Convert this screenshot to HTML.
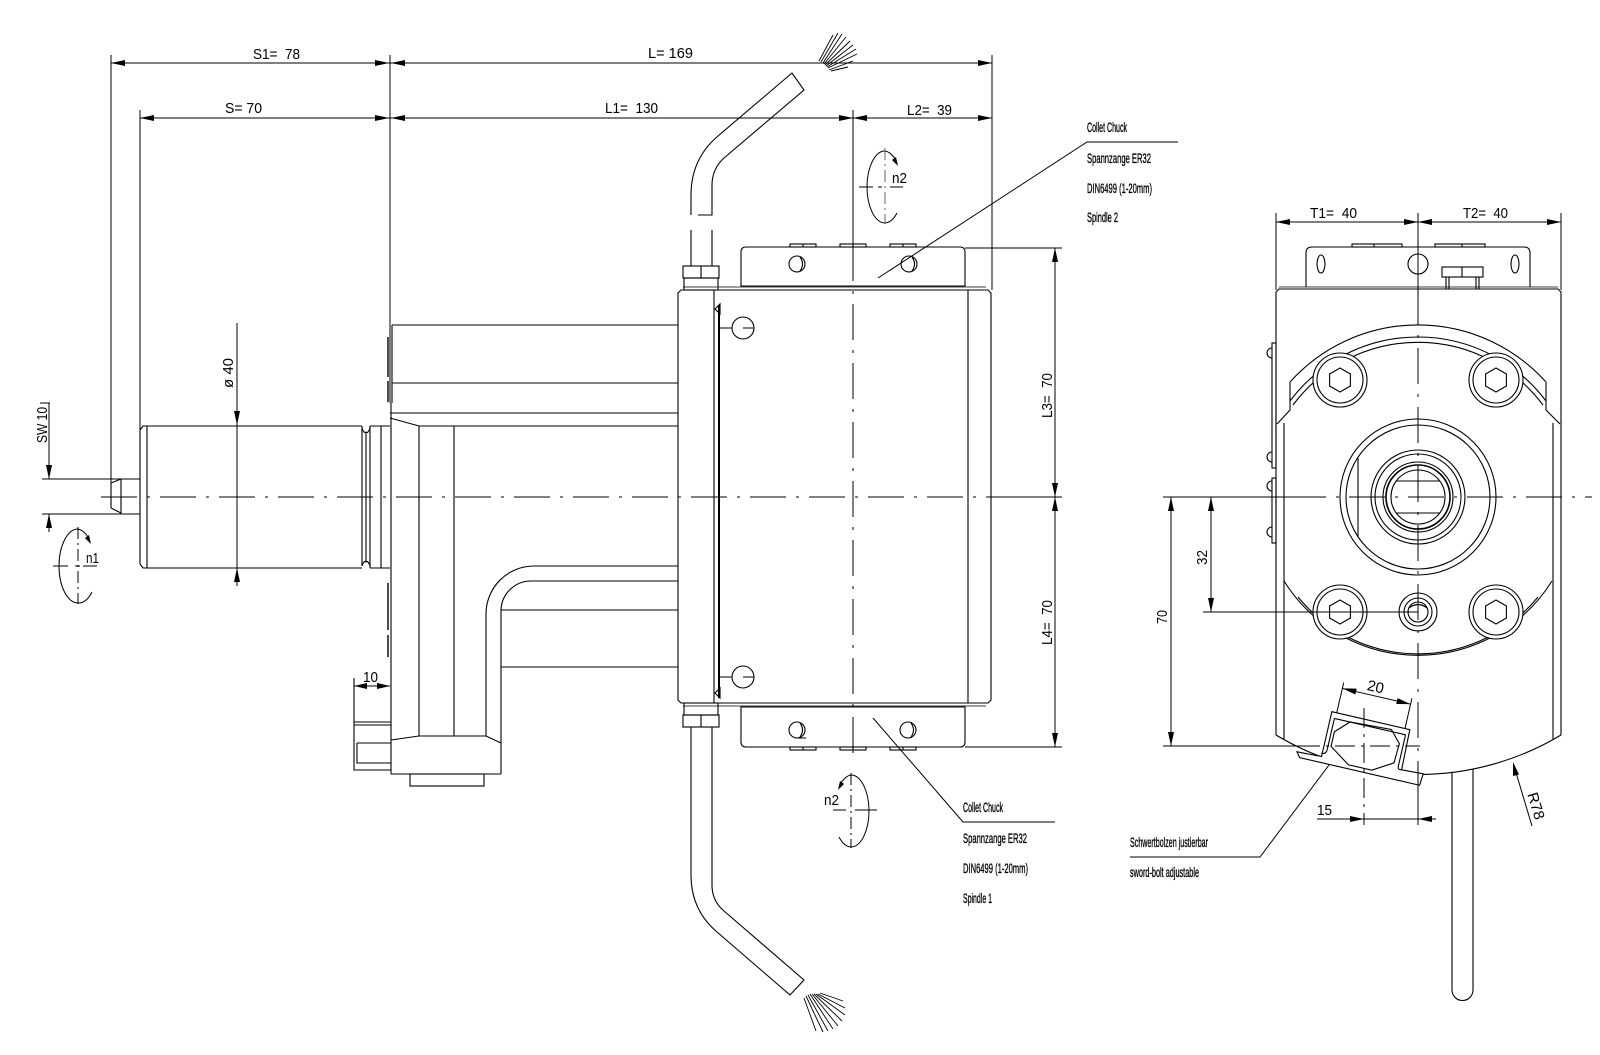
<!DOCTYPE html>
<html><head><meta charset="utf-8">
<style>html,body{margin:0;padding:0;background:#fff;}svg{display:block;}text{white-space:pre;}</style></head>
<body>
<svg width="1600" height="1055" viewBox="0 0 1600 1055" xmlns="http://www.w3.org/2000/svg" font-family="'Liberation Sans', sans-serif">
<rect width="1600" height="1055" fill="#fff"/>

<!-- ================= DIMENSIONS TOP ================= -->
<g stroke="#000" stroke-width="1" fill="none">
  <line x1="111" y1="63" x2="992" y2="63"/>
  <line x1="140" y1="118" x2="992" y2="118"/>
  <line x1="111" y1="55" x2="111" y2="483"/>
  <line x1="140" y1="110" x2="140" y2="430"/>
  <line x1="390" y1="55" x2="390" y2="403"/>
  <line x1="992" y1="55" x2="992" y2="290"/>
  <line x1="853" y1="110" x2="853" y2="245"/>
</g>
<g fill="#000">
  <polygon points="111,63 125,60 125,66"/>
  <polygon points="389,63 375,60 375,66"/>
  <polygon points="391,63 405,60 405,66"/>
  <polygon points="992,63 978,60 978,66"/>
  <polygon points="140,118 154,115 154,121"/>
  <polygon points="389,118 375,115 375,121"/>
  <polygon points="391,118 405,115 405,121"/>
  <polygon points="853,118 839,115 839,121"/>
  <polygon points="853,118 867,115 867,121"/>
  <polygon points="992,118 978,115 978,121"/>
</g>
<g font-size="15" fill="#000">
  <text x="253" y="59" textLength="47" lengthAdjust="spacingAndGlyphs">S1=  78</text>
  <text x="225" y="113" textLength="37" lengthAdjust="spacingAndGlyphs">S= 70</text>
  <text x="648" y="58" textLength="45" lengthAdjust="spacingAndGlyphs">L= 169</text>
  <text x="605" y="113" textLength="53" lengthAdjust="spacingAndGlyphs">L1=  130</text>
  <text x="907" y="115" textLength="45" lengthAdjust="spacingAndGlyphs">L2=  39</text>
</g>

<!-- ================= LEFT SHAFT / CYLINDER ================= -->
<g stroke="#000" stroke-width="1.1" fill="none">
  <path d="M111,483 L121,479 M111,508 L121,513 M111,483 V508 M121,479 V514"/>
  <line x1="42" y1="479" x2="140" y2="479"/>
  <line x1="42" y1="514" x2="140" y2="514"/>
  <path d="M147,426 H362 M147,568 H362 M147,426 V568 M140,430 L143,426 H147 M140,564 L143,568 H147 M140,430 V564"/>
  <path d="M362,426 V566 M366,432 V562 M362,428 Q364,434 366,432 Q368,434 370,428 M362,566 Q364,560 366,562 Q368,560 370,566 M370,426 V568 M381,426 V568 M370,426 H390 M370,568 H390"/>
</g>
<g stroke="#000" stroke-width="1" fill="none">
  <line x1="49" y1="403" x2="49" y2="479"/>
  <line x1="40" y1="403" x2="50" y2="403"/>
  <line x1="49" y1="514" x2="49" y2="532"/>
  <line x1="237" y1="323" x2="237" y2="586"/>
</g>
<g fill="#000">
  <polygon points="49,479 46,465 52,465"/>
  <polygon points="49,514 46,528 52,528"/>
  <polygon points="237,425 234,411 240,411"/>
  <polygon points="237,568 234,582 240,582"/>
</g>
<g font-size="15" fill="#000">
  <text transform="translate(47,443) rotate(-90)" textLength="36" lengthAdjust="spacingAndGlyphs">SW 10</text>
  <text transform="translate(233,388) rotate(-90)" textLength="30" lengthAdjust="spacingAndGlyphs">ø 40</text>
</g>
<g stroke="#000" stroke-width="1" fill="none">
  <path d="M78,529 A19,37 0 0,0 78,603"/>
  <path d="M78,529 A19,37 0 0,1 88,537"/>
  <path d="M78,603 A19,37 0 0,0 92,592"/>
  <line x1="78" y1="527" x2="78" y2="604" stroke-dasharray="12 4 2 4"/>
  <path d="M53,566 H68 M75,566 H80 M83,566 H97"/>
</g>
<polygon points="91,544 89,535 85,538" fill="#000"/>
<text x="86" y="563" font-size="15" textLength="13" lengthAdjust="spacingAndGlyphs">n1</text>

<!-- ================= GEAR HOUSING ================= -->
<g stroke="#000" stroke-width="1.1" fill="none">
  <path d="M392,325 H678 M392,383 H678 M390,413 H678 M390,418 L419,426 H678 M392,325 V403"/>
  <path d="M419,426 V736 M454,426 V736"/>
  <path d="M391,403 V774"/>
  <path d="M486,736 V614 A48,48 0 0,1 534,566 H678"/>
  <path d="M501,774 V611 A30,30 0 0,1 531,581 H678"/>
  <path d="M501,610 H678 M501,667 H678"/>
  <path d="M391,740 L419,736 H486 L501,743"/>
  <path d="M391,774 H501"/>
  <rect x="410" y="774" width="74" height="12"/>
  <path d="M388,337 V377 M388,381 V402 M388,583 V630 M388,635 V657" stroke-width="1.4"/>
  <path d="M354,678 V770 H391 M354,722 H391 M354,725 H391 M357,743 V763 H391 M357,743 H391"/>
  <line x1="354" y1="686" x2="390" y2="686" stroke-width="1"/>
</g>
<g fill="#000">
  <polygon points="354,686 367,683 367,689"/>
  <polygon points="390,686 377,683 377,689"/>
</g>
<text x="363" y="682" font-size="15" textLength="15" lengthAdjust="spacingAndGlyphs">10</text>

<!-- ================= MAIN BOX ================= -->
<g stroke="#000" stroke-width="1.1" fill="none">
  <path d="M681,290 H988 L991,293 V700 L988,703 H681 L678,700 V293 Z"/>
  <path d="M683,287 H986 M683,706 H986" stroke-width="0.8"/>
  <path d="M714,290 V703 M968,290 V703"/>
  <path d="M719,305 V698" stroke-width="2"/>
  <polygon points="715,309 720,304 720,314"/>
  <polygon points="715,693 720,688 720,698"/>
  <circle cx="743" cy="328" r="11"/>
  <path d="M720,328 H732 M743,328 H754"/>
  <circle cx="743" cy="677" r="11"/>
  <path d="M720,677 H732 M743,677 H754"/>
  <path d="M741,286 V252 Q741,247 746,247 H960 Q965,247 965,252 V286 Z"/>
  <rect x="790" y="244" width="26" height="3"/><rect x="840" y="244" width="26" height="3"/><rect x="890" y="244" width="26" height="3"/>
  <path d="M803,244 V247 M853,244 V247 M903,244 V247"/>
  <circle cx="797" cy="264" r="8"/><path d="M800,257 Q805,264 800,271"/>
  <circle cx="909" cy="264" r="8"/><path d="M912,257 Q917,264 912,271"/>
  <path d="M741,707 V742 Q741,747 746,747 H960 Q965,747 965,742 V707 Z"/>
  <rect x="790" y="747" width="26" height="3"/><rect x="840" y="747" width="26" height="3"/><rect x="890" y="747" width="26" height="3"/>
  <path d="M803,747 V750 M853,747 V750 M903,747 V750"/>
  <circle cx="797" cy="730" r="8"/><path d="M800,723 Q805,730 800,737 M796,738 H806"/>
  <circle cx="908" cy="730" r="8"/><path d="M911,723 Q916,730 911,737"/>
  <rect x="683" y="266" width="36" height="12"/><path d="M701,266 V278"/>
  <rect x="684" y="278" width="34" height="12"/>
  <rect x="684" y="703" width="34" height="12"/>
  <rect x="683" y="715" width="36" height="12"/><path d="M701,715 V727"/>
  <path d="M691,266 V230 M712,266 V230"/>
  <path d="M691,215 V195 Q691,159 718,136 L792,73 L804,90 L724,158 Q712,169 712,185 V215 H698"/>
  <path d="M691,727 V875 Q691,910 717,932 L790,995 L804,980 L724,911 Q712,901 712,885 V727"/>
</g>
<g stroke="#000" stroke-width="0.9">
  <line x1="819" y1="61" x2="833" y2="35"/>
  <line x1="821" y1="62" x2="838" y2="33"/>
  <line x1="823" y1="63" x2="842" y2="34"/>
  <line x1="824" y1="64" x2="846" y2="37"/>
  <line x1="825" y1="65" x2="850" y2="41"/>
  <line x1="826" y1="66" x2="853" y2="45"/>
  <line x1="827" y1="67" x2="856" y2="49"/>
  <line x1="828" y1="68" x2="857" y2="54"/>
  <line x1="829" y1="70" x2="853" y2="61"/>
  <line x1="831" y1="71" x2="848" y2="67"/>
  <line x1="806" y1="996" x2="823" y2="1032"/>
  <line x1="808" y1="995" x2="828" y2="1031"/>
  <line x1="810" y1="994" x2="833" y2="1029"/>
  <line x1="812" y1="994" x2="838" y2="1026"/>
  <line x1="814" y1="994" x2="842" y2="1021"/>
  <line x1="816" y1="994" x2="845" y2="1015"/>
  <line x1="818" y1="994" x2="845" y2="1008"/>
  <line x1="820" y1="993" x2="843" y2="1001"/>
  <line x1="804" y1="998" x2="816" y2="1031"/>
</g>

<g stroke="#000" stroke-width="1" fill="none">
  <line x1="101" y1="497" x2="1000" y2="497" stroke-dasharray="36 10 3 10"/>
  <line x1="1000" y1="497" x2="1062" y2="497"/>
  <line x1="853" y1="245" x2="853" y2="757" stroke-dasharray="36 10 3 10"/>
</g>

<g stroke="#000" stroke-width="1" fill="none">
  <path d="M885,151 A18,36 0 0,0 885,223"/>
  <path d="M885,151 A18,36 0 0,1 895,159"/>
  <path d="M885,223 A18,36 0 0,0 897,213"/>
  <line x1="885" y1="148" x2="885" y2="224" stroke="#666" stroke-dasharray="12 4 2 4"/>
  <path d="M859,187 H873 M878,187 H882 M890,187 H903"/>
</g>
<polygon points="898,166 896,157 892,160" fill="#000"/>
<text x="892" y="183" font-size="15" textLength="15" lengthAdjust="spacingAndGlyphs">n2</text>
<g stroke="#000" stroke-width="1" fill="none">
  <path d="M851,775 A18,36 0 0,1 851,847"/>
  <path d="M851,775 A18,36 0 0,0 841,783"/>
  <path d="M851,847 A18,36 0 0,1 839,837"/>
  <line x1="851" y1="773" x2="851" y2="848" stroke-dasharray="12 4 2 4"/>
  <path d="M833,810 H846 M855,810 H877"/>
</g>
<polygon points="838,790 840,781 844,784" fill="#000"/>
<text x="824" y="805" font-size="15" textLength="15" lengthAdjust="spacingAndGlyphs">n2</text>

<g stroke="#000" stroke-width="1" fill="none">
  <line x1="1055" y1="248" x2="1055" y2="747"/>
  <line x1="965" y1="248" x2="1062" y2="248"/>
  <line x1="965" y1="747" x2="1062" y2="747"/>
</g>
<g fill="#000">
  <polygon points="1055,248 1052,262 1058,262"/>
  <polygon points="1055,497 1052,483 1058,483"/>
  <polygon points="1055,497 1052,511 1058,511"/>
  <polygon points="1055,747 1052,733 1058,733"/>
</g>
<g font-size="15" fill="#000">
  <text transform="translate(1052,418) rotate(-90)" textLength="45" lengthAdjust="spacingAndGlyphs">L3=  70</text>
  <text transform="translate(1052,645) rotate(-90)" textLength="45" lengthAdjust="spacingAndGlyphs">L4=  70</text>
</g>

<g stroke="#000" stroke-width="1" fill="none">
  <path d="M878,278 L1087,142 H1178"/>
  <path d="M873,718 L963,822 H1055"/>
  <path d="M1350,737 L1260,857 H1130"/>
</g>
<g font-size="14" fill="#000" stroke="#000" stroke-width="0.35">
  <text x="1087" y="132" textLength="40" lengthAdjust="spacingAndGlyphs">Collet Chuck</text>
  <text x="1087" y="163" textLength="64" lengthAdjust="spacingAndGlyphs">Spannzange ER32</text>
  <text x="1087" y="193" textLength="65" lengthAdjust="spacingAndGlyphs">DIN6499 (1-20mm)</text>
  <text x="1087" y="222" textLength="31" lengthAdjust="spacingAndGlyphs">Spindle 2</text>
  <text x="963" y="812" textLength="40" lengthAdjust="spacingAndGlyphs">Collet Chuck</text>
  <text x="963" y="843" textLength="64" lengthAdjust="spacingAndGlyphs">Spannzange ER32</text>
  <text x="963" y="873" textLength="65" lengthAdjust="spacingAndGlyphs">DIN6499 (1-20mm)</text>
  <text x="963" y="903" textLength="29" lengthAdjust="spacingAndGlyphs">Spindle 1</text>
  <text x="1130" y="847" textLength="78" lengthAdjust="spacingAndGlyphs">Schwertbolzen justierbar</text>
  <text x="1130" y="877" textLength="69" lengthAdjust="spacingAndGlyphs">sword-bolt adjustable</text>
</g>

<!-- ================= END VIEW ================= -->
<g stroke="#000" stroke-width="1" fill="none">
  <line x1="1276" y1="222" x2="1561" y2="222"/>
  <line x1="1276" y1="213" x2="1276" y2="290"/>
  <line x1="1561" y1="213" x2="1561" y2="290"/>
  <line x1="1418" y1="213" x2="1418" y2="289"/>
</g>
<g fill="#000">
  <polygon points="1276,222 1290,219 1290,225"/>
  <polygon points="1418,222 1404,219 1404,225"/>
  <polygon points="1418,222 1432,219 1432,225"/>
  <polygon points="1561,222 1547,219 1547,225"/>
</g>
<g font-size="15" fill="#000">
  <text x="1310" y="218" textLength="47" lengthAdjust="spacingAndGlyphs">T1=  40</text>
  <text x="1463" y="218" textLength="45" lengthAdjust="spacingAndGlyphs">T2=  40</text>
</g>

<g stroke="#000" stroke-width="1.1" fill="none">
  <path d="M1306,287 V253 Q1306,247 1312,247 H1524 Q1530,247 1530,253 V287"/>
  <rect x="1352" y="244" width="50" height="3"/><path d="M1374,244 V247"/>
  <rect x="1435" y="244" width="50" height="3"/><path d="M1462,244 V247"/>
  <ellipse cx="1321" cy="264" rx="4" ry="9"/>
  <circle cx="1418" cy="264" r="10"/>
  <ellipse cx="1515" cy="264" rx="4" ry="9"/>
  <rect x="1442" y="267" width="41" height="10"/><path d="M1462,267 V277"/>
  <path d="M1446,277 V289 M1449,277 V289 M1476,277 V289 M1479,277 V289"/>
  <path d="M1276,735 V292 L1279,289 H1558 L1561,292 V735"/>
  <path d="M1279,287 H1558" stroke-width="0.7"/>
  <path d="M1276,735 A277,277 0 0,0 1561,735"/>
  <path d="M1290,382 A172,172 0 0,1 1546,382"/>
  <path d="M1290,382 V410 L1277,424 M1546,382 V410 L1560,424"/>
  <path d="M1284,423 V739 M1553,423 V739"/>
  <path d="M1290,401 A160,160 0 0,1 1546,401"/>
  <path d="M1293,405 A156,156 0 0,1 1543,405"/>
  <path d="M1284,581 A158,158 0 0,0 1552,581"/>
  <path d="M1298,597 A155,155 0 0,0 1538,597"/>
  <rect x="1272" y="343" width="4" height="125"/>
  <rect x="1272" y="478" width="4" height="65"/>
  <path d="M1272,348 A5,5 0 0,0 1272,358 M1272,452 A5,5 0 0,0 1272,462 M1272,481 A5,5 0 0,0 1272,491 M1272,527 A5,5 0 0,0 1272,537"/>
  <circle cx="1418" cy="497" r="78" fill="#fff"/>
  <circle cx="1418" cy="497" r="72"/>
  <path d="M1358,458 V536"/>
  <circle cx="1418" cy="497" r="47"/>
  <circle cx="1418" cy="497" r="43"/>
  <circle cx="1418" cy="497" r="35"/>
  <circle cx="1418" cy="497" r="32" stroke-width="1.6"/>
  <circle cx="1418" cy="497" r="27"/>
  <path d="M1396,481 H1440 M1396,513 H1440"/>
  <g fill="#fff">
    <circle cx="1340" cy="380" r="27"/><circle cx="1496" cy="380" r="27"/>
    <circle cx="1340" cy="612" r="27"/><circle cx="1496" cy="612" r="27"/>
    <circle cx="1418" cy="612" r="19"/>
  </g>
  <circle cx="1340" cy="380" r="23"/><circle cx="1496" cy="380" r="23"/>
  <circle cx="1340" cy="612" r="23"/><circle cx="1496" cy="612" r="23"/>
  <polygon points="1340,368 1350.4,374 1350.4,386 1340,392 1329.6,386 1329.6,374"/>
  <polygon points="1496,368 1506.4,374 1506.4,386 1496,392 1485.6,386 1485.6,374"/>
  <polygon points="1340,600 1350.4,606 1350.4,618 1340,624 1329.6,618 1329.6,606"/>
  <polygon points="1496,600 1506.4,606 1506.4,618 1496,624 1485.6,618 1485.6,606"/>
  <circle cx="1418" cy="612" r="14"/>
  <circle cx="1418" cy="612" r="10"/>
  <path d="M1409,608 Q1418,601 1427,608"/>
  <path d="M1452,772 V990 A10.5,10.5 0 0,0 1473,990 V769"/>
</g>

<g transform="translate(1365,746) rotate(13)" stroke="#000" stroke-width="1.1">
  <path d="M-65,21 L-40,20 L-40,-26 L40,-26 L41,15 L63,14 L62,26 L-61,26 Z" fill="#fff"/>
  <path d="M-36,-20 H37 M-36,-20 V12 Q-36,17 -41,17 M37,-20 V12 Q37,16 41,15" fill="none"/>
  <path d="M-33,-7 L-20,-20 L22,-22 L33,-10 L32,10 L12,22 L-12,22 L-33,8 Z" fill="none"/>
  <path d="M-35,-57 V-26 M35,-57 V-26 M-35,-51 H35" fill="none" stroke-width="1"/>
  <polygon points="-35,-51 -21,-54 -21,-48" fill="#000" stroke="none"/>
  <polygon points="35,-51 21,-54 21,-48" fill="#000" stroke="none"/>
  <text x="-3" y="-55" font-size="15" text-anchor="middle" stroke="none" fill="#000">20</text>
</g>

<g stroke="#000" stroke-width="1" fill="none">
  <line x1="1163" y1="497" x2="1290" y2="497"/>
  <line x1="1290" y1="497" x2="1592" y2="497" stroke-dasharray="36 10 3 10"/>
  <line x1="1418" y1="289" x2="1418" y2="825" stroke-dasharray="36 10 3 10"/>
  <line x1="1203" y1="612" x2="1418" y2="612"/>
  <line x1="1163" y1="746" x2="1300" y2="746"/>
  <line x1="1300" y1="746" x2="1420" y2="746" stroke-dasharray="20 6 3 6"/>
  <line x1="1364" y1="708" x2="1364" y2="825" stroke-dasharray="20 6 3 6"/>
  <line x1="1171" y1="497" x2="1171" y2="746"/>
  <line x1="1211" y1="497" x2="1211" y2="612"/>
  <line x1="1317" y1="819" x2="1436" y2="819"/>
  <line x1="1418" y1="775" x2="1418" y2="825"/>
  <line x1="1532" y1="826" x2="1514" y2="766"/>
</g>
<g fill="#000">
  <polygon points="1171,497 1168,511 1174,511"/>
  <polygon points="1171,746 1168,732 1174,732"/>
  <polygon points="1211,497 1208,511 1214,511"/>
  <polygon points="1211,612 1208,598 1214,598"/>
  <polygon points="1364,819 1350,816 1350,822"/>
  <polygon points="1418,819 1432,816 1432,822"/>
  <polygon points="1513,762 1519,774.5 1513,776"/>
</g>
<g font-size="15" fill="#000">
  <text transform="translate(1167,624) rotate(-90)" textLength="14" lengthAdjust="spacingAndGlyphs">70</text>
  <text transform="translate(1207,565) rotate(-90)" textLength="15" lengthAdjust="spacingAndGlyphs">32</text>
  <text x="1317" y="815" textLength="15" lengthAdjust="spacingAndGlyphs">15</text>
  <text transform="translate(1536,806) rotate(73)" text-anchor="middle" dy="5">R78</text>
</g>
</svg>
</body></html>
